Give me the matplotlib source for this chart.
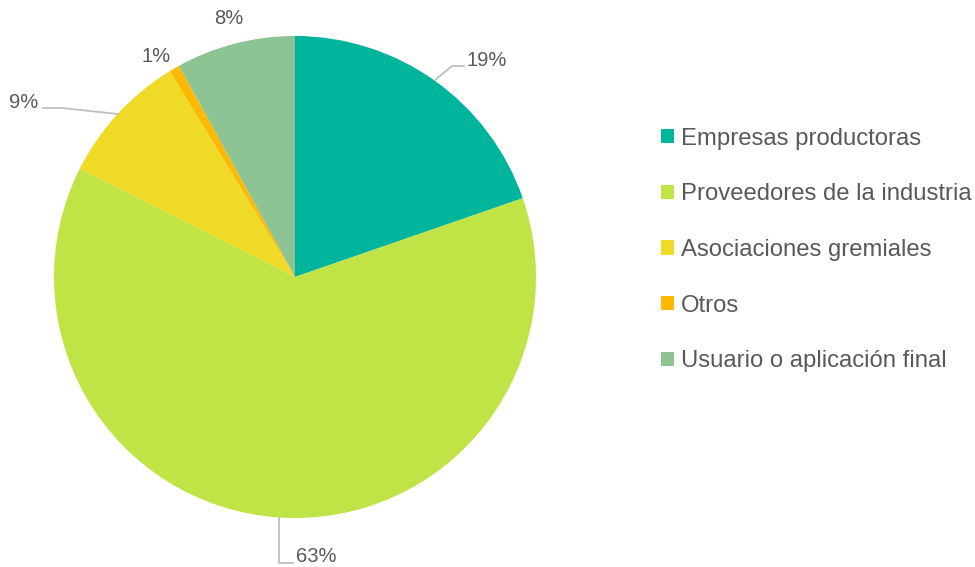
import matplotlib
matplotlib.use("Agg")
import matplotlib.pyplot as plt

categories = ["Empresas productoras", "Proveedores de la industria",
              "Asociaciones gremiales", "Otros", "Usuario o aplicación final"]
# shares; labels are the rounded values shown
values = [19.7, 62.7, 8.9, 0.7, 8.0]
pct_labels = ["19%", "63%", "9%", "1%", "8%"]
colors = ["#00B59C", "#C0E346", "#F0DA28", "#FFB900", "#8EC393"]

plt.rcParams["font.family"] = ["Liberation Sans", "DejaVu Sans"]
grey = "#595959"

W, H = 975, 567
fig = plt.figure(figsize=(W / 100, H / 100), dpi=100)

# pie centre and radius in pixels
cx, cy, r = 295, 277, 241
ax = fig.add_axes([(cx - r) / W, (H - cy - r) / H, 2 * r / W, 2 * r / H])

wedges, _ = ax.pie(values, colors=colors, startangle=90, counterclock=False,
                   radius=1, wedgeprops=dict(linewidth=0))
ax.set_xlim(-1, 1)
ax.set_ylim(-1, 1)
ax.set_aspect("equal")
ax.axis("off")

def px(x, y):
    return ((x - cx) / r, (cy - y) / r)

# percentage labels: position, alignment, optional leader line
label_pos = [(467, 61), (296, 557), (38, 103), (156, 56), (229, 19)]
label_ha = ["left", "left", "right", "center", "center"]
leaders = [
    [(435, 80), (452, 66), (464, 66)],
    [(279, 518), (279, 563), (293, 563)],
    [(43, 108), (62, 108), (118, 114)],
    None,
    None,
]

for lab, pos, ha, ld in zip(pct_labels, label_pos, label_ha, leaders):
    x, y = px(*pos)
    ax.text(x, y, lab, ha=ha, va="center", fontsize=14.5, color=grey, clip_on=False)
    if ld:
        pts = [px(*p) for p in ld]
        ax.plot([p[0] for p in pts], [p[1] for p in pts], color="#BFBFBF",
                linewidth=1.3, clip_on=False)

fig.legend(wedges, categories, loc="center left", bbox_to_anchor=(661 / W, 1 - 250 / H),
           frameon=False, fontsize=17.2, labelcolor=grey, handlelength=0.55,
           handleheight=0.55, handletextpad=0.3, labelspacing=1.41, borderpad=0,
           borderaxespad=0)

fig.savefig("out.png", dpi=100)
